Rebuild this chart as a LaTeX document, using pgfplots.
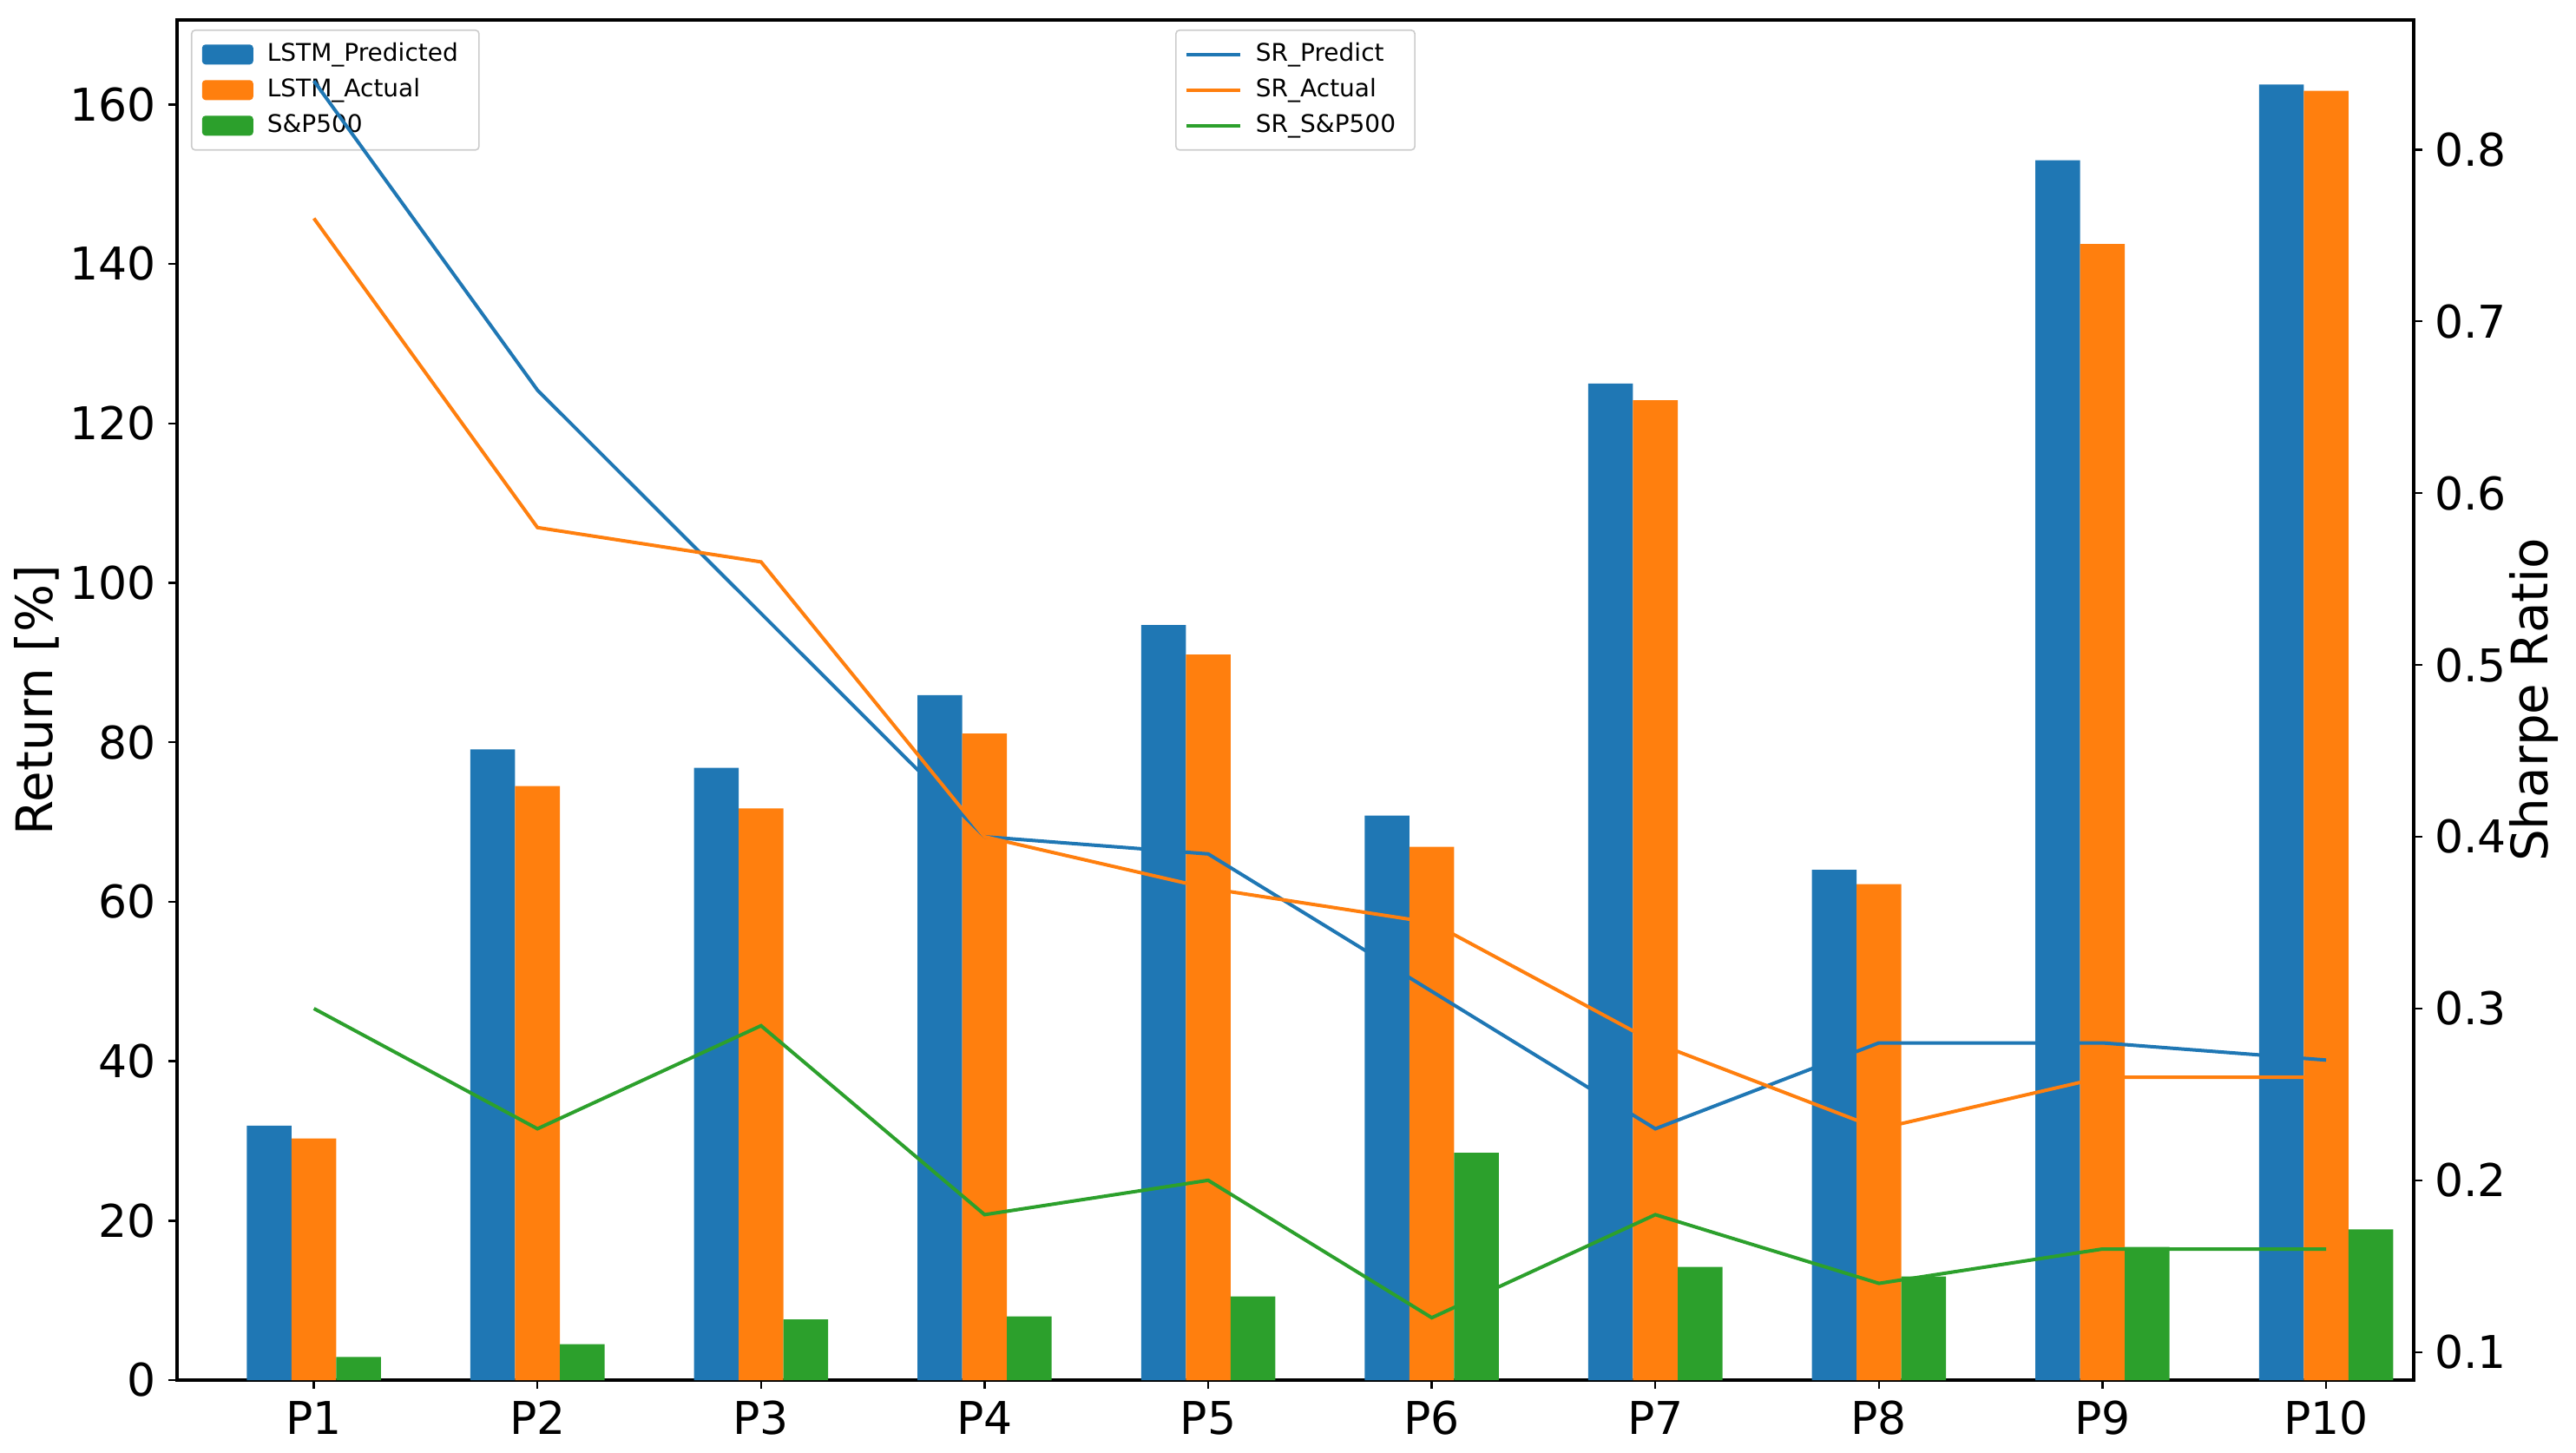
\documentclass[border=0pt]{standalone}
\usepackage{fontspec}
\setmainfont{DejaVu Sans}
\usepackage{pgfplots}
\pgfplotsset{compat=1.18}
\definecolor{c0}{HTML}{1F77B4}
\definecolor{c1}{HTML}{FF7F0E}
\definecolor{c2}{HTML}{2CA02C}
\pgfplotsset{
  common/.style={
    width=644.25pt, height=391.75pt, scale only axis,
    at={(0,0)}, anchor=south west,
    xmin=-0.612, xmax=9.392,
    tick align=outside,
    major tick length=2.5pt,
    every tick/.style={black, line width=0.6pt},
    /pgf/number format/assume math mode=true,
    ticklabel style={font=\fontsize{13}{15}\selectfont},
    label style={font=\fontsize{14.5}{17}\selectfont},
    axis line style={line width=0.8pt},
    legend cell align=left,
    legend style={font=\fontsize{7}{8}\selectfont, draw=black!20, rounded corners=1pt,
      fill=white, fill opacity=0.8, draw opacity=1, text opacity=1,
      inner xsep=3pt, inner ysep=3.5pt, row sep=3.25pt, column sep=1pt,
      nodes={inner xsep=3pt, inner ysep=0pt, text height=5.5pt, text depth=1.5pt}},
  }
}
\begin{document}
\begin{tikzpicture}
\path[use as bounding box] (-51pt,-20.75pt) rectangle (691pt,397.5pt);
\begin{axis}[common,
  ymin=0, ymax=170.6,
  ytick={0,20,40,60,80,100,120,140,160},
  xtick={0,1,2,3,4,5,6,7,8,9},
  xticklabels={P1,P2,P3,P4,P5,P6,P7,P8,P9,P10},
  xtick pos=left, ytick pos=left,
  ylabel={Return [\%]},
  ylabel style={at={(axis description cs:-0.0629,0.5)}, anchor=center},
  legend style={at={(0,1)}, anchor=north west, xshift=4pt, yshift=-2.75pt},
  legend image code/.code={\fill[#1, fill opacity=1] (0pt,-2.875pt) rectangle (14.75pt,2.875pt);},
]
\addplot[ybar, bar width=0.2, bar shift=-0.2, fill=c0, draw=none] coordinates {
 (0,31.9) (1,79.1) (2,76.8) (3,85.9) (4,94.7) (5,70.8) (6,125.0) (7,64.0) (8,153.0) (9,162.5)};
\addlegendentry{LSTM\_Predicted}
\addplot[ybar, bar width=0.2, bar shift=0, fill=c1, draw=none] coordinates {
 (0,30.3) (1,74.5) (2,71.7) (3,81.1) (4,91.0) (5,66.9) (6,122.9) (7,62.2) (8,142.5) (9,161.7)};
\addlegendentry{LSTM\_Actual}
\addplot[ybar, bar width=0.2, bar shift=0.2, fill=c2, draw=none] coordinates {
 (0,2.9) (1,4.5) (2,7.6) (3,8.0) (4,10.5) (5,28.5) (6,14.2) (7,13.0) (8,16.7) (9,18.9)};
\addlegendentry{S\&P500}
\end{axis}
\begin{axis}[common,
  ymin=0.0837, ymax=0.8755,
  axis x line=none, axis y line*=right,
  ytick={0.1,0.2,0.3,0.4,0.5,0.6,0.7,0.8},
  yticklabel style={/pgf/number format/.cd, fixed, fixed zerofill, precision=1},
  ylabel={Sharpe Ratio},
  ylabel style={at={(axis description cs:1.0539,0.5)}, anchor=center},
  legend style={at={(0.5,1)}, anchor=north, yshift=-2.75pt, inner xsep=2.5pt},
  legend image code/.code={\draw[#1, draw opacity=1] (0pt,0pt) -- (15.5pt,0pt);},
]
\addplot[c0, line width=1pt] coordinates {
 (0,0.84) (1,0.66) (2,0.53) (3,0.40) (4,0.39) (5,0.31) (6,0.23) (7,0.28) (8,0.28) (9,0.27)};
\addlegendentry{SR\_Predict}
\addplot[c1, line width=1pt] coordinates {
 (0,0.76) (1,0.58) (2,0.56) (3,0.40) (4,0.37) (5,0.35) (6,0.28) (7,0.23) (8,0.26) (9,0.26)};
\addlegendentry{SR\_Actual}
\addplot[c2, line width=1pt] coordinates {
 (0,0.30) (1,0.23) (2,0.29) (3,0.18) (4,0.20) (5,0.12) (6,0.18) (7,0.14) (8,0.16) (9,0.16)};
\addlegendentry{SR\_S\&P500}
\end{axis}
\end{tikzpicture}
\end{document}
